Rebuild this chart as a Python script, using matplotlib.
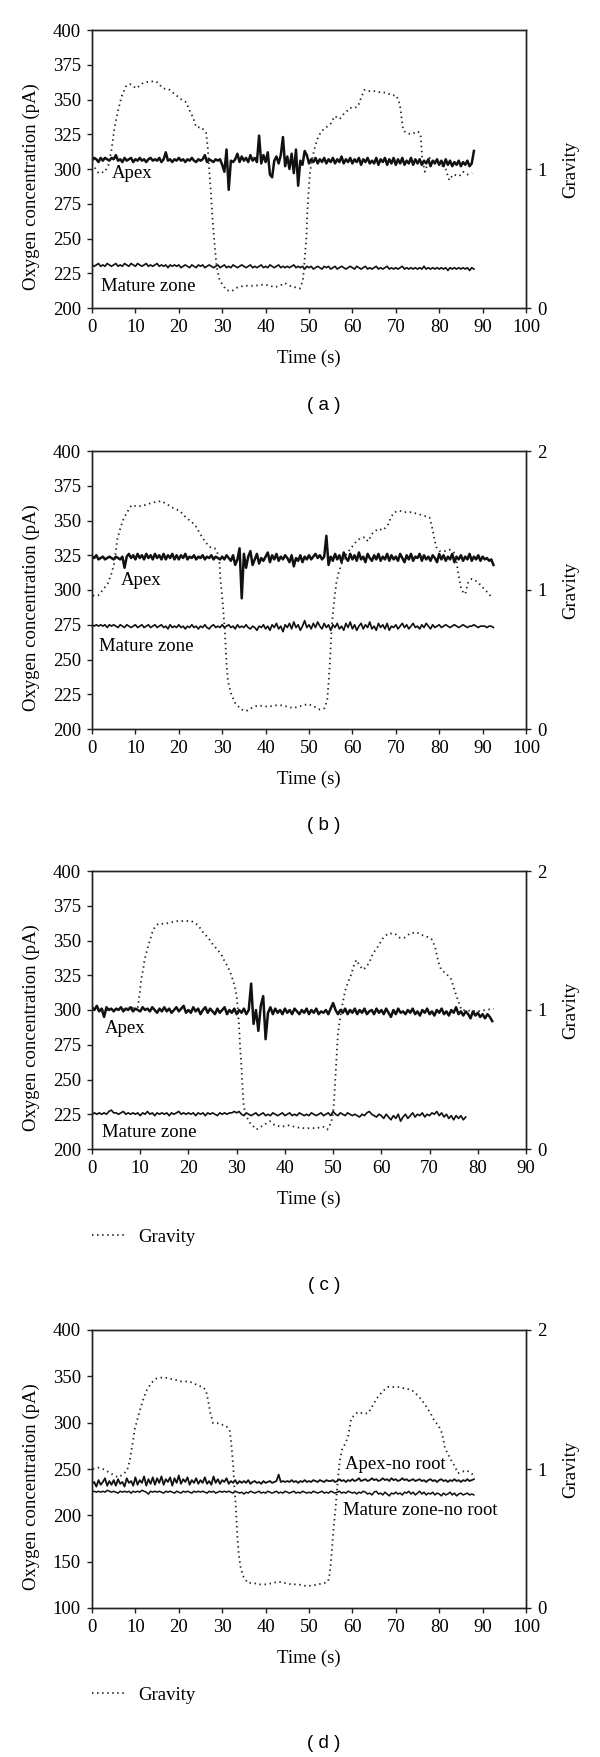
import numpy as np
import matplotlib
matplotlib.use('Agg')
import matplotlib.pyplot as plt

plt.rcParams['font.family'] = ['Liberation Serif', 'DejaVu Serif']
FS = 13.5
DT = 0.5  # sampling step of the traced signals (s)

# ---------------- panel (a) ----------------
apex_a = [306, 308, 307, 305, 308, 306, 308, 307, 306, 308,
          307, 310, 306, 307, 305, 308, 306, 307, 308, 305,
          307, 306, 308, 306, 307, 305, 307, 308, 306, 307,
          306, 308, 305, 307, 312, 306, 307, 305, 307, 306,
          308, 306, 307, 305, 307, 306, 308, 306, 305, 307,
          306, 307, 310, 305, 307, 306, 305, 307, 306, 307,
          303, 298, 314, 285, 306, 305, 307, 311, 305, 309,
          306, 308, 305, 310, 306, 308, 305, 324, 304, 310,
          305, 312, 296, 294, 306, 309, 304, 310, 323, 302,
          309, 300, 311, 297, 314, 288, 306, 303, 313, 310,
          304, 307, 305, 308, 304, 307, 305, 308, 304, 307,
          305, 308, 304, 307, 305, 309, 304, 307, 305, 308,
          304, 307, 305, 308, 303, 307, 305, 308, 304, 306,
          304, 308, 303, 307, 305, 308, 303, 307, 304, 308,
          303, 307, 304, 308, 303, 306, 304, 308, 303, 307,
          304, 307, 303, 306, 304, 307, 302, 306, 304, 307,
          303, 306, 302, 307, 303, 306, 302, 305, 303, 306,
          302, 305, 303, 306, 302, 304, 313]
mature_a = [231, 230, 231, 232, 230, 231, 230, 232, 231, 230,
            231, 232, 230, 231, 230, 232, 231, 230, 232, 231,
            230, 232, 231, 230, 231, 232, 230, 231, 230, 231,
            232, 230, 231, 230, 231, 229, 231, 230, 231, 230,
            231, 229, 230, 231, 230, 229, 231, 230, 229, 231,
            230, 231, 229, 230, 231, 230, 229, 230, 231, 229,
            230, 231, 229, 230, 229, 231, 230, 229, 230, 231,
            230, 229, 230, 231, 229, 230, 229, 230, 231, 229,
            230, 229, 231, 230, 229, 230, 231, 229, 230, 229,
            230, 229, 230, 231, 229, 230, 229, 230, 228, 230,
            229, 230, 228, 229, 230, 229, 228, 230, 229, 230,
            228, 229, 230, 228, 229, 230, 229, 228, 229, 230,
            229, 228, 230, 229, 228, 229, 230, 228, 229, 228,
            229, 230, 228, 229, 228, 229, 230, 228, 229, 228,
            229, 228, 229, 230, 228, 229, 228, 229, 228, 229,
            228, 229, 228, 230, 228, 229, 228, 229, 228, 229,
            228, 229, 228, 229, 227, 229, 228, 229, 228, 229,
            228, 229, 228, 229, 227, 229, 228]
grav_a_t = [0, 1.5, 3.0, 3.8, 4.5, 5.2, 6.0, 6.8, 7.9, 8.8, 10.2, 11.8, 13.3, 14.8, 16.4,
            17.9, 19.0, 20.6, 21.7, 22.5, 23.3, 24.0, 25.2, 26.3, 26.7, 27.0, 27.4, 27.8,
            28.3, 28.7, 29.4, 30.9, 32.1, 33.6, 35.2, 37.5, 39.8, 42.1, 43.3, 44.4, 45.6,
            46.7, 47.9, 48.6, 49.0, 49.4, 49.6, 49.9, 50.2, 50.7, 51.3, 52.0, 52.8, 54.0,
            55.1, 55.9, 57.1, 57.8, 58.6, 59.4, 60.5, 61.3, 62.1, 62.8, 64.0, 65.1, 66.7,
            67.8, 69.0, 70.1, 70.9, 71.2, 71.7, 72.4, 73.5, 75.1, 75.7, 75.9, 76.1, 76.7,
            77.8, 79.0, 80.5, 81.5, 82.3, 83.2, 84.7, 85.5, 86.5, 87.6]
grav_a = [1.04, 0.97, 0.98, 1.03, 1.14, 1.30, 1.42, 1.52, 1.60, 1.61, 1.58, 1.62, 1.63, 1.63,
          1.58, 1.57, 1.54, 1.50, 1.48, 1.42, 1.37, 1.30, 1.30, 1.26, 1.14, 1.00, 0.83, 0.63,
          0.44, 0.30, 0.20, 0.13, 0.12, 0.15, 0.16, 0.16, 0.17, 0.15, 0.16, 0.18, 0.16, 0.15,
          0.14, 0.20, 0.35, 0.51, 0.68, 0.83, 0.97, 1.07, 1.15, 1.22, 1.27, 1.30, 1.33, 1.38,
          1.36, 1.39, 1.41, 1.44, 1.44, 1.45, 1.52, 1.57, 1.56, 1.56, 1.55, 1.55, 1.53, 1.53,
          1.47, 1.40, 1.28, 1.26, 1.25, 1.27, 1.25, 1.16, 1.07, 0.98, 1.08, 1.05, 1.03, 1.00,
          0.92, 0.96, 0.95, 0.98, 0.96, 0.97]

# ---------------- panel (b) ----------------
apex_b = [324, 323, 325, 322, 323, 324, 322, 323, 324, 323,
          322, 324, 323, 322, 324, 316, 324, 326, 323, 325,
          322, 326, 323, 325, 322, 326, 323, 325, 322, 326,
          323, 325, 322, 326, 322, 325, 323, 326, 322, 325,
          322, 325, 323, 326, 322, 324, 323, 325, 322, 324,
          323, 325, 322, 324, 323, 325, 322, 324, 323, 322,
          324, 322, 325, 323, 321, 325, 318, 322, 330, 294,
          326, 316, 324, 328, 318, 322, 326, 319, 323, 321,
          324, 327, 320, 325, 322, 326, 321, 324, 322, 325,
          323, 320, 325, 317, 323, 321, 325, 320, 324, 322,
          325, 322, 324, 326, 323, 325, 322, 324, 339, 318,
          324, 321, 326, 322, 325, 320, 327, 323, 321, 326,
          322, 325, 321, 327, 322, 324, 320, 326, 323, 321,
          325, 322, 326, 321, 324, 322, 326, 321, 325, 322,
          324, 321, 326, 323, 320, 325, 322, 326, 321, 324,
          323, 326, 321, 325, 322, 324, 321, 325, 323, 320,
          326, 322, 325, 321, 324, 322, 326, 320, 324, 322,
          325, 321, 324, 322, 326, 321, 324, 322, 325, 321,
          324, 322, 323, 321, 322, 318]
mature_b = [275, 274, 275, 274, 275, 274, 275, 273, 275, 274,
            275, 274, 273, 275, 274, 273, 275, 274, 273, 274,
            275, 273, 274, 275, 273, 274, 275, 273, 274, 275,
            273, 274, 275, 273, 274, 272, 275, 273, 274, 273,
            275, 273, 274, 272, 274, 273, 275, 273, 274, 272,
            274, 273, 275, 273, 272, 274, 275, 273, 274, 273,
            275, 273, 274, 275, 273, 274, 272, 275, 273, 274,
            273, 275, 273, 272, 274, 273, 271, 274, 273, 275,
            272, 274, 271, 275, 273, 276, 272, 274, 270, 275,
            273, 276, 272, 277, 273, 275, 271, 274, 278, 273,
            275, 272, 276, 273, 277, 274, 272, 276, 273, 275,
            271, 275, 273, 276, 272, 274, 271, 276, 273, 277,
            272, 275, 271, 274, 276, 272, 275, 273, 277, 272,
            274, 271, 276, 273, 275, 272, 276, 271, 274, 273,
            275, 272, 274, 276, 273, 275, 272, 274, 276, 273,
            274, 272, 275, 273, 276, 274, 272, 275, 273, 274,
            275, 273, 274, 275, 274, 273, 274, 275, 274, 273,
            274, 275, 274, 273, 274, 274, 275, 274, 273, 274,
            274, 274, 273, 274, 274, 273]
grav_b_t = [0.2, 1.4, 2.5, 3.7, 4.5, 5.1, 5.5, 5.8, 6.4, 7.1, 7.9, 9.1, 10.6, 12.1, 14.1,
            16.0, 17.1, 18.7, 20.2, 21.4, 22.5, 23.7, 24.8, 26.0, 27.1, 28.3, 29.0, 29.4,
            29.6, 30.0, 30.3, 30.6, 30.8, 31.0, 31.3, 32.0, 32.9, 34.4, 35.6, 36.7, 38.2,
            40.6, 42.1, 43.6, 45.2, 46.3, 47.5, 48.6, 49.8, 51.3, 52.5, 53.6, 54.2, 54.5,
            54.8, 55.0, 55.2, 55.5, 55.9, 56.3, 56.8, 57.4, 58.2, 59.4, 60.9, 61.7, 62.8,
            63.6, 64.7, 65.9, 67.1, 68.2, 69.0, 69.7, 70.9, 72.0, 73.6, 74.7, 75.9, 77.0,
            77.8, 78.3, 78.8, 79.3, 80.1, 81.3, 82.4, 83.4, 83.9, 84.3, 84.7, 85.1, 86.0,
            86.6, 87.5, 88.8, 90.0, 91.2, 92.3]
grav_b = [0.96, 0.96, 1.00, 1.05, 1.12, 1.19, 1.28, 1.36, 1.43, 1.50,
          1.55, 1.61, 1.60, 1.61, 1.63, 1.64, 1.62, 1.59, 1.57, 1.53,
          1.50, 1.47, 1.41, 1.35, 1.31, 1.30, 1.26, 1.19, 1.07, 0.95,
          0.83, 0.71, 0.59, 0.47, 0.35, 0.26, 0.19, 0.14, 0.13, 0.15,
          0.17, 0.16, 0.17, 0.17, 0.16, 0.15, 0.16, 0.17, 0.18, 0.16,
          0.14, 0.15, 0.21, 0.33, 0.47, 0.59, 0.71, 0.83, 0.95, 1.05,
          1.12, 1.18, 1.24, 1.29, 1.35, 1.37, 1.38, 1.35, 1.41, 1.44,
          1.43, 1.47, 1.53, 1.56, 1.57, 1.56, 1.56, 1.55, 1.54, 1.53,
          1.52, 1.46, 1.38, 1.31, 1.28, 1.28, 1.29, 1.27, 1.22, 1.14,
          1.07, 1.00, 0.97, 1.05, 1.08, 1.06, 1.02, 0.98, 0.94]

# ---------------- panel (c) ----------------
apex_c = [302, 300, 303, 299, 301, 295, 302, 300, 301, 299,
          301, 300, 302, 299, 301, 300, 302, 299, 301, 300,
          299, 302, 300, 301, 299, 302, 300, 298, 301, 299,
          302, 299, 301, 298, 300, 302, 299, 301, 303, 298,
          300, 298, 302, 299, 301, 297, 300, 302, 298, 301,
          299, 297, 301, 298, 300, 302, 297, 300, 298, 301,
          297, 300, 298, 301, 297, 300, 319, 290, 300, 285,
          303, 310, 279, 298, 302, 297, 301, 298, 300, 297,
          301, 298, 300, 297, 301, 299, 297, 300, 298, 301,
          297, 300, 298, 301, 297, 299, 298, 300, 297, 301,
          305, 300, 297, 300, 298, 301, 297, 300, 298, 301,
          297, 300, 298, 301, 297, 299, 300, 297, 301, 298,
          300, 297, 301, 298, 295, 300, 297, 301, 298, 299,
          297, 300, 298, 301, 297, 299, 296, 300, 298, 301,
          297, 299, 296, 300, 298, 301, 297, 299, 296, 300,
          298, 302, 297, 299, 296, 299, 297, 294, 299, 296,
          298, 295, 297, 294, 297, 295, 292]
mature_c = [225, 226, 225, 226, 225, 226, 225, 227, 228, 226,
            226, 225, 226, 227, 225, 226, 225, 226, 225, 226,
            224, 226, 225, 227, 225, 226, 224, 226, 225, 226,
            225, 226, 224, 226, 225, 226, 227, 225, 226, 225,
            226, 225, 226, 224, 226, 225, 226, 224, 226, 225,
            226, 225, 224, 226, 225, 226, 225, 226, 226, 227,
            226, 227, 225, 224, 226, 225, 224, 225, 226, 224,
            225, 226, 224, 225, 224, 226, 225, 224, 225, 226,
            224, 225, 226, 224, 225, 224, 226, 225, 224, 225,
            224, 226, 225, 224, 225, 226, 224, 225, 226, 224,
            227, 225, 224, 226, 225, 224, 226, 225, 224, 225,
            224, 223, 225, 224, 226, 227, 225, 224, 223, 225,
            224, 222, 225, 223, 221, 224, 222, 225, 220, 223,
            225, 222, 224, 226, 223, 225, 224, 226, 223, 225,
            224, 226, 225, 227, 224, 226, 223, 225, 222, 224,
            221, 224, 222, 224, 221, 223]
grav_c_t = [0, 5.0, 9.5, 9.9, 10.2, 10.6, 10.9, 11.4, 12.0, 12.7,
            13.7, 15.1, 16.4, 17.8, 19.2, 20.6, 22.0, 23.0, 24.1, 25.1,
            26.1, 26.8, 27.5, 28.2, 28.9, 29.6, 30.0, 30.2, 30.5, 30.7,
            31.0, 31.2, 31.4, 31.8, 32.7, 34.1, 35.5, 36.9, 37.9, 39.3,
            40.7, 42.0, 43.4, 44.8, 46.5, 47.9, 48.8, 49.6, 50.0, 50.2,
            50.4, 50.6, 50.8, 51.0, 51.4, 52.1, 52.5, 53.1, 53.8, 54.3,
            54.8, 55.5, 56.2, 56.9, 57.6, 58.3, 59.0, 59.7, 60.4, 61.4,
            62.8, 63.8, 64.8, 65.9, 67.3, 68.3, 69.3, 70.4, 71.1, 71.8,
            72.4, 73.5, 74.5, 75.2, 75.9, 76.6, 80.0, 83.3]
grav_c = [1.00, 1.00, 1.02, 1.12, 1.22, 1.29, 1.36, 1.43, 1.50, 1.58,
          1.62, 1.62, 1.63, 1.64, 1.64, 1.64, 1.61, 1.56, 1.52, 1.47,
          1.43, 1.40, 1.35, 1.31, 1.25, 1.17, 1.10, 1.02, 0.88, 0.74,
          0.59, 0.45, 0.33, 0.25, 0.19, 0.14, 0.17, 0.20, 0.17, 0.16,
          0.17, 0.16, 0.15, 0.15, 0.15, 0.16, 0.14, 0.19, 0.26, 0.35,
          0.47, 0.59, 0.71, 0.83, 0.93, 1.07, 1.14, 1.20, 1.26, 1.32,
          1.36, 1.32, 1.29, 1.31, 1.35, 1.41, 1.44, 1.48, 1.52, 1.55,
          1.55, 1.52, 1.52, 1.55, 1.56, 1.54, 1.53, 1.51, 1.46, 1.35,
          1.29, 1.26, 1.22, 1.14, 1.07, 1.00, 0.99, 1.01]

# ---------------- panel (d) ----------------
apex_d = [234, 236, 231, 238, 233, 236, 240, 232, 237, 233,
          238, 232, 239, 234, 236, 231, 240, 235, 237, 232,
          241, 233, 238, 235, 242, 232, 239, 234, 241, 233,
          240, 235, 242, 233, 239, 236, 241, 232, 240, 235,
          243, 234, 239, 236, 241, 233, 238, 235, 240, 234,
          238, 235, 241, 234, 237, 233, 242, 235, 239, 234,
          238, 236, 240, 234, 237, 235, 238, 234, 237, 235,
          237, 235, 238, 234, 236, 237, 235, 236, 234, 237,
          235, 236, 237, 235, 236, 237, 244, 236, 237, 236,
          237, 236, 238, 236, 237, 235, 237, 236, 238, 236,
          237, 236, 238, 237, 236, 238, 237, 236, 238, 237,
          237, 238, 236, 237, 239, 237, 238, 236, 238, 237,
          239, 237, 238, 240, 237, 238, 239, 237, 238, 240,
          238, 239, 237, 238, 240, 238, 239, 237, 240, 238,
          239, 237, 238, 240, 238, 239, 237, 238, 239, 237,
          238, 239, 237, 238, 236, 238, 239, 237, 238, 236,
          238, 239, 237, 238, 236, 238, 237, 239, 237, 238,
          236, 238, 237, 239, 237, 238, 239]
mature_d = [225, 226, 225, 226, 225, 226, 225, 227, 226, 225,
            226, 225, 224, 226, 225, 226, 225, 226, 224, 226,
            225, 226, 225, 227, 226, 225, 223, 226, 225, 226,
            225, 226, 225, 224, 226, 225, 226, 225, 224, 226,
            225, 224, 226, 225, 226, 225, 224, 226, 225, 226,
            225, 226, 225, 224, 226, 225, 226, 224, 225, 226,
            225, 226, 225, 226, 225, 224, 226, 225, 224, 225,
            223, 225, 224, 226, 225, 224, 225, 226, 224, 225,
            224, 226, 225, 224, 225, 226, 224, 225, 224, 226,
            225, 224, 225, 226, 224, 225, 224, 226, 225, 224,
            225, 224, 226, 225, 224, 225, 226, 224, 225, 224,
            226, 225, 224, 225, 226, 224, 225, 224, 226, 225,
            224, 225, 223, 225, 224, 226, 225, 223, 224, 222,
            225, 226, 223, 224, 222, 225, 223, 221, 224, 223,
            225, 223, 224, 222, 225, 224, 226, 223, 225, 222,
            224, 226, 223, 225, 222, 224, 223, 225, 222, 224,
            223, 221, 224, 222, 223, 225, 222, 224, 221, 223,
            224, 222, 223, 224, 222, 223, 222]
grav_d_t = [0.2, 1.4, 2.5, 3.7, 4.8, 6.0, 7.1, 8.1, 8.7, 9.1,
            9.5, 9.8, 10.4, 11.0, 11.8, 12.5, 13.7, 14.8, 16.4, 17.9,
            19.4, 20.6, 22.1, 23.3, 24.4, 25.6, 26.3, 26.9, 27.3, 27.9,
            28.9, 29.8, 30.9, 31.7, 32.0, 32.3, 32.6, 32.8, 33.1, 33.3,
            33.5, 33.8, 34.2, 34.8, 35.9, 37.1, 38.6, 40.2, 41.7, 42.9,
            44.4, 45.9, 47.5, 49.0, 50.5, 52.1, 53.6, 54.4, 54.8, 55.1,
            55.4, 55.7, 56.1, 56.4, 56.7, 57.1, 57.6, 58.3, 59.0, 59.4,
            59.7, 60.5, 61.3, 62.4, 63.6, 64.4, 65.1, 65.9, 67.0, 68.2,
            69.3, 70.5, 72.0, 73.6, 74.7, 75.9, 77.0, 78.2, 79.0, 79.7,
            80.5, 81.0, 81.3, 82.0, 82.8, 83.6, 84.3, 85.3, 86.3, 87.4,
            88.3]
grav_d = [1.00, 1.01, 1.00, 0.98, 0.96, 0.94, 0.96, 0.99, 1.06, 1.14,
          1.21, 1.28, 1.35, 1.42, 1.50, 1.56, 1.62, 1.65, 1.66, 1.65,
          1.64, 1.63, 1.63, 1.62, 1.60, 1.59, 1.56, 1.47, 1.40, 1.33,
          1.33, 1.32, 1.31, 1.28, 1.21, 1.11, 0.99, 0.87, 0.75, 0.63,
          0.51, 0.39, 0.30, 0.23, 0.18, 0.18, 0.17, 0.17, 0.18, 0.19,
          0.18, 0.17, 0.17, 0.16, 0.16, 0.17, 0.18, 0.19, 0.25, 0.35,
          0.47, 0.59, 0.71, 0.83, 0.94, 1.06, 1.14, 1.18, 1.23, 1.30,
          1.36, 1.39, 1.41, 1.40, 1.40, 1.44, 1.48, 1.52, 1.56, 1.59,
          1.59, 1.59, 1.58, 1.57, 1.54, 1.50, 1.45, 1.39, 1.34, 1.32,
          1.27, 1.21, 1.15, 1.11, 1.06, 1.02, 0.97, 0.98, 0.99, 0.97,
          0.94]

panel_letters = ['( a )', '( b )', '( c )', '( d )']
x_label = 'Time (s)'
y_label = 'Oxygen concentration (pA)'
g_label = 'Gravity'

# ---------------- layout (pixels of the 600 x 1757 canvas) ----------------
W, H = 600, 1757
LEFT, RIGHT = 92, 526
panels = [
    dict(top=30, bottom=308, xlim=(0, 100), xticks=range(0, 101, 10),
         ylim=(200, 400), yticks=range(200, 401, 25), gticks=[0, 1],
         apex=apex_a, mature=mature_a, gt=grav_a_t, g=grav_a,
         labels=[('Apex', 4.5, 297), ('Mature zone', 2.0, 215.8)],
         apex_lw=1.8, mat_lw=1.2, legend=None, letter_y=405.5, xlab_base=363),
    dict(top=451, bottom=729, xlim=(0, 100), xticks=range(0, 101, 10),
         ylim=(200, 400), yticks=range(200, 401, 25), gticks=[0, 1, 2],
         apex=apex_b, mature=mature_b, gt=grav_b_t, g=grav_b,
         labels=[('Apex', 6.7, 307), ('Mature zone', 1.7, 259)],
         apex_lw=1.8, mat_lw=1.2, legend=None, letter_y=826, xlab_base=784),
    dict(top=871, bottom=1149, xlim=(0, 90), xticks=range(0, 91, 10),
         ylim=(200, 400), yticks=range(200, 401, 25), gticks=[0, 1, 2],
         apex=apex_c, mature=mature_c, gt=grav_c_t, g=grav_c,
         labels=[('Apex', 2.6, 287), ('Mature zone', 2.0, 212)],
         apex_lw=1.8, mat_lw=1.2, legend=1237, letter_y=1286, xlab_base=1204),
    dict(top=1330, bottom=1608, xlim=(0, 100), xticks=range(0, 101, 10),
         ylim=(100, 400), yticks=range(100, 401, 50), gticks=[0, 1, 2],
         apex=apex_d, mature=mature_d, gt=grav_d_t, g=grav_d,
         labels=[('Apex-no root', 58.3, 255), ('Mature zone-no root', 57.9, 205)],
         apex_lw=1.3, mat_lw=1.1, legend=1695, letter_y=1743, xlab_base=1663),
]

fig = plt.figure(figsize=(W / 100, H / 100), dpi=100)
dot_style = (0, (0.8, 2.0))
INK = '#111111'

for p, letter in zip(panels, panel_letters):
    rect = [LEFT / W, 1 - p['bottom'] / H, (RIGHT - LEFT) / W, (p['bottom'] - p['top']) / H]
    ax = fig.add_axes(rect)
    ax2 = ax.twinx()

    ta = np.arange(len(p['apex'])) * DT
    tm = np.arange(len(p['mature'])) * DT
    ax.plot(ta, p['apex'], color=INK, lw=p['apex_lw'])
    ax.plot(tm, p['mature'], color=INK, lw=p['mat_lw'])
    gline, = ax2.plot(p['gt'], p['g'], color='#222222', lw=1.3, linestyle=dot_style,
                      label=g_label)

    ax.set_xlim(*p['xlim'])
    ax.set_ylim(*p['ylim'])
    ax.set_xticks(list(p['xticks']))
    ax.set_yticks(list(p['yticks']))
    ax2.set_ylim(0, 2)
    ax2.set_yticks(p['gticks'])

    for a in (ax, ax2):
        for s in a.spines.values():
            s.set_linewidth(1.0)
            s.set_color('#222222')
    ax.tick_params(axis='both', direction='out', length=3.5, width=1.0,
                   labelsize=FS, pad=4.5, colors='#222222', labelcolor='black')
    ax2.tick_params(axis='y', direction='out', length=3.5, width=1.0,
                    labelsize=FS, pad=4.5, colors='#222222', labelcolor='black')

    ax.set_xlabel(x_label, fontsize=FS)
    ax.xaxis.label.set_va('baseline')
    ax.xaxis.set_label_coords(0.5, (p['bottom'] - p['xlab_base']) / (p['bottom'] - p['top']))
    ax.set_ylabel(y_label, fontsize=FS)
    ax.yaxis.set_label_coords((40 - LEFT) / (RIGHT - LEFT), 0.435)
    ax2.set_ylabel(g_label, fontsize=FS)
    ax2.yaxis.set_label_coords((562 - LEFT) / (RIGHT - LEFT), 0.5)

    for txt, tx, ty in p['labels']:
        ax.text(tx, ty, txt, fontsize=FS, ha='left', va='center', color='black')

    if p['legend'] is not None:
        ax2.legend(handles=[gline], loc='center left',
                   bbox_to_anchor=(LEFT / W, 1 - p['legend'] / H),
                   bbox_transform=fig.transFigure, frameon=False, fontsize=FS,
                   handlelength=1.8, handletextpad=0.65, borderpad=0, borderaxespad=0)

    fig.text(324 / W, 1 - p['letter_y'] / H, letter, ha='center', va='center',
             fontsize=FS, family=['Liberation Sans', 'DejaVu Sans'])

fig.savefig('out.png', dpi=100)
